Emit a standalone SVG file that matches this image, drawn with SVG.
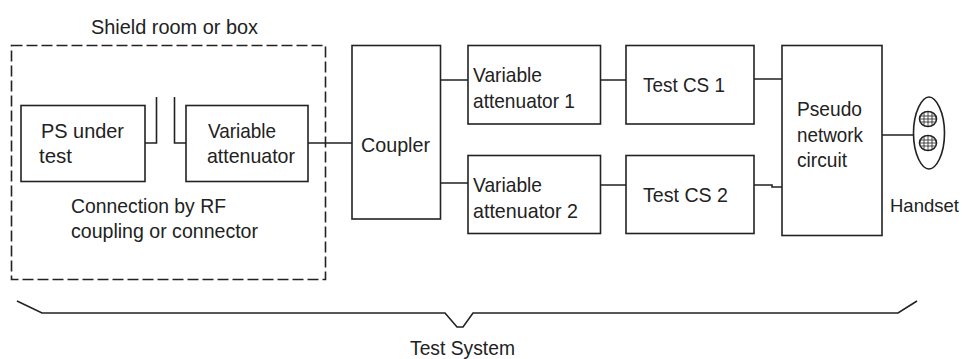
<svg xmlns="http://www.w3.org/2000/svg" width="962" height="359" viewBox="0 0 962 359">
<style>
.b{fill:#fff;stroke:#222;stroke-width:1.6}
.c{fill:none;stroke:#222;stroke-width:1.6}
.t{font-family:"Liberation Sans",Arial,sans-serif;font-size:21px;fill:#222}
.h{stroke:#333;stroke-width:.9}
</style>
<rect width="962" height="359" fill="#fff"/>
<g id="shield"><rect x="11.500" y="45.500" width="314" height="234" fill="none" stroke="#222" stroke-width="1.6" stroke-dasharray="11 4"/>
<text class="t" x="91" y="34" textLength="167" lengthAdjust="spacingAndGlyphs">Shield room or box</text>
<text class="t" x="71" y="213" textLength="155" lengthAdjust="spacingAndGlyphs">Connection by RF</text>
<text class="t" x="71" y="238" textLength="187" lengthAdjust="spacingAndGlyphs">coupling or connector</text></g>
<g id="connectors">
<path class="c" d="M145 143H156.500V97M174.500 97V143H186M308 143H352M440 80H468M440 183H468M601 80H626M601 185H626M754 79H782M754 185H772V187H782M882 135H913"/>
</g>
<g id="ps"><rect class="b" x="21" y="105.500" width="124" height="76"/>
<text class="t" x="41" y="138" textLength="83" lengthAdjust="spacingAndGlyphs">PS under</text>
<text class="t" x="39" y="163" textLength="33" lengthAdjust="spacingAndGlyphs">test</text></g>
<g id="att0"><rect class="b" x="186" y="105.500" width="122" height="76"/>
<text class="t" x="208" y="138" textLength="68" lengthAdjust="spacingAndGlyphs">Variable</text>
<text class="t" x="207" y="163" textLength="88" lengthAdjust="spacingAndGlyphs">attenuator</text></g>
<g id="coupler"><rect class="b" x="352" y="45.500" width="88.500" height="173.500"/>
<text class="t" x="361" y="152" textLength="69" lengthAdjust="spacingAndGlyphs">Coupler</text></g>
<g id="att1"><rect class="b" x="468" y="45.500" width="132.500" height="78.500"/>
<text class="t" x="473" y="82" textLength="69" lengthAdjust="spacingAndGlyphs">Variable</text>
<text class="t" x="473" y="108" textLength="102" lengthAdjust="spacingAndGlyphs">attenuator 1</text></g>
<g id="att2"><rect class="b" x="468" y="155.500" width="132.500" height="78"/>
<text class="t" x="473" y="192" textLength="69" lengthAdjust="spacingAndGlyphs">Variable</text>
<text class="t" x="473" y="218" textLength="105" lengthAdjust="spacingAndGlyphs">attenuator 2</text></g>
<g id="cs1"><rect class="b" x="626" y="45.500" width="128" height="78.500"/>
<text class="t" x="643" y="92" textLength="82" lengthAdjust="spacingAndGlyphs">Test CS 1</text></g>
<g id="cs2"><rect class="b" x="626" y="155.500" width="128" height="78"/>
<text class="t" x="643" y="202" textLength="85" lengthAdjust="spacingAndGlyphs">Test CS 2</text></g>
<g id="pseudo"><rect class="b" x="782" y="45.500" width="100" height="190"/>
<text class="t" x="797" y="116" textLength="65" lengthAdjust="spacingAndGlyphs">Pseudo</text>
<text class="t" x="797" y="142" textLength="66" lengthAdjust="spacingAndGlyphs">network</text>
<text class="t" x="797" y="167" textLength="50" lengthAdjust="spacingAndGlyphs">circuit</text></g>
<g id="handset">
<path class="c" d="M929 97C936 97 944.500 112 944.500 133C944.500 155 936 169 929 169C922 169 913.500 155 913.500 133C913.500 112 922 97 929 97Z"/>
<ellipse class="c" cx="928" cy="119" rx="8.500" ry="7.500"/><ellipse class="c" cx="928" cy="143" rx="8.500" ry="7.500"/>
<path class="h" d="M920 116H936M920 119H936M920 122H936M924 112V126M928 112V126M932 112V126M920 140H936M920 143H936M920 146H936M924 136V150M928 136V150M932 136V150"/>
<text class="t" x="890" y="212" style="font-size:18.500px">Handset</text></g>
<g id="brace"><path class="c" d="M17 301L42 313H445L457 327H463L473 313H898L917 301"/>
<text class="t" x="410" y="355" textLength="105" lengthAdjust="spacingAndGlyphs">Test System</text></g>
</svg>
